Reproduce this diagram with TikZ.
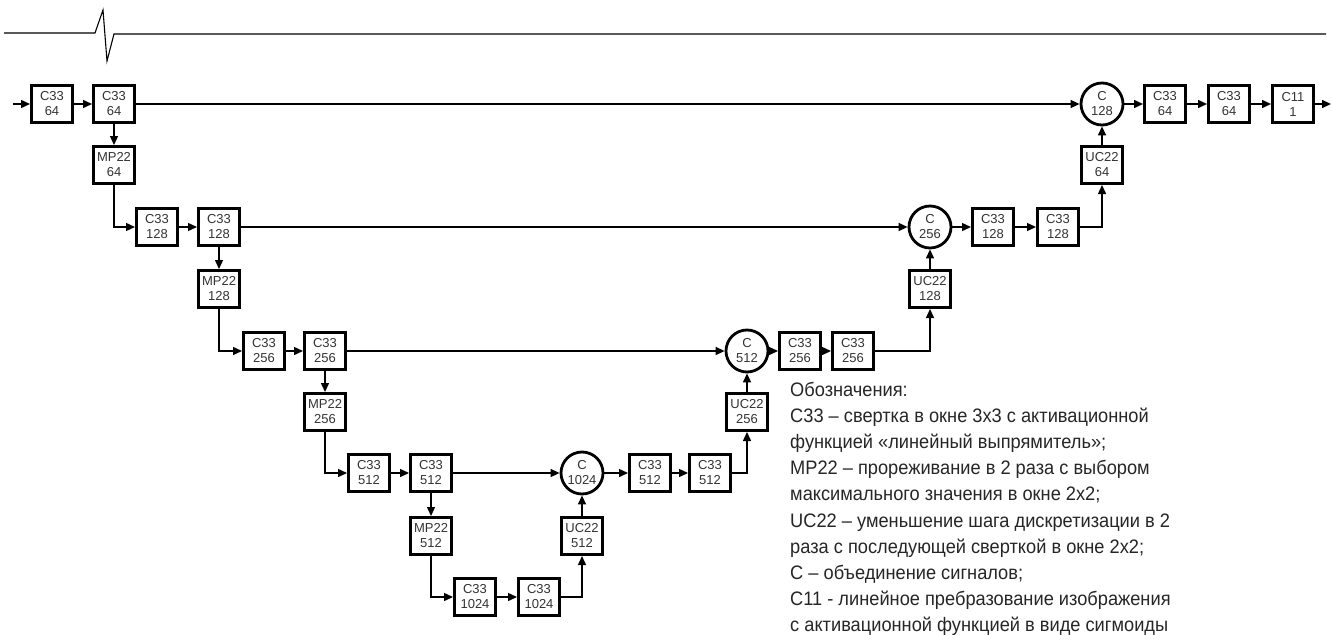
\documentclass[tikz,border=0pt]{standalone}
\usepackage{fontspec}
\setmainfont{Liberation Sans}
\newfontfamily\legendfont[FakeStretch=0.935]{Liberation Sans}
\usetikzlibrary{arrows.meta}

\begin{document}
\begin{tikzpicture}[x=1pt,y=-1pt,
        blk/.style={draw, line width=3pt, minimum width=41pt, minimum height=37pt, inner sep=0pt, align=center, text=black!80, font=\fontsize{13}{15}\selectfont},
        cat/.style={draw, circle, line width=2.8pt, minimum size=42pt, inner sep=0pt, align=center, text=black!80, font=\fontsize{13}{15}\selectfont},
        link/.style={line width=1.4pt, -{Triangle[length=9pt,width=8pt]}}]
        \useasboundingbox (0,0) rectangle (1332,634);
        % header rule
        \draw[line width=1.1pt] (4,33) -- (95,33) -- (103,10) -- (107,61) -- (114,34) -- (1326,34);
        % encoder
        \node[blk] (c64a) at (52,104) {C33\\64};
        \node[blk] (c64b) at (114,104) {C33\\64};
        \node[blk] (mp64) at (114,165) {MP22\\64};
        \node[blk] (c128a) at (157,227) {C33\\128};
        \node[blk] (c128b) at (219,227) {C33\\128};
        \node[blk] (mp128) at (219,289) {MP22\\128};
        \node[blk] (c256a) at (264,351) {C33\\256};
        \node[blk] (c256b) at (325,351) {C33\\256};
        \node[blk] (mp256) at (325,412) {MP22\\256};
        \node[blk] (c512a) at (369,473) {C33\\512};
        \node[blk] (c512b) at (431,473) {C33\\512};
        \node[blk] (mp512) at (431,536) {MP22\\512};
        \node[blk] (c1024a) at (475,597) {C33\\1024};
        \node[blk] (c1024b) at (539,597) {C33\\1024};
        % decoder
        \node[blk] (uc512) at (582,536) {UC22\\512};
        \node[cat] (cat1024) at (582,473) {C\\1024};
        \node[blk] (d512a) at (650,473) {C33\\512};
        \node[blk] (d512b) at (710,473) {C33\\512};
        \node[blk] (uc256) at (747,412) {UC22\\256};
        \node[cat] (cat512) at (747,351) {C\\512};
        \node[blk] (d256a) at (800,351) {C33\\256};
        \node[blk] (d256b) at (853,351) {C33\\256};
        \node[blk] (uc128) at (930,289) {UC22\\128};
        \node[cat] (cat256) at (930,227) {C\\256};
        \node[blk] (d128a) at (993,227) {C33\\128};
        \node[blk] (d128b) at (1058,227) {C33\\128};
        \node[blk] (uc64) at (1102,165) {UC22\\64};
        \node[cat] (cat128) at (1102,104) {C\\128};
        \node[blk] (d64a) at (1165,104) {C33\\64};
        \node[blk] (d64b) at (1229,104) {C33\\64};
        \node[blk] (out1) at (1293,104) {C11\\1};
        \coordinate (src) at (13,104);
        \coordinate (dst) at (1331,104);
        % connectors
        \draw[link] (src) -- (c64a);
        \draw[link] (c64a) -- (c64b);
        \draw[link] (c64b) -- (mp64);
        \draw[link] (mp64.south) |- (c128a.west);
        \draw[link] (c128a) -- (c128b);
        \draw[link] (c128b) -- (mp128);
        \draw[link] (mp128.south) |- (c256a.west);
        \draw[link] (c256a) -- (c256b);
        \draw[link] (c256b) -- (mp256);
        \draw[link] (mp256.south) |- (c512a.west);
        \draw[link] (c512a) -- (c512b);
        \draw[link] (c512b) -- (mp512);
        \draw[link] (mp512.south) |- (c1024a.west);
        \draw[link] (c1024a) -- (c1024b);
        \draw[link] (c1024b.east) -| (uc512.south);
        \draw[link] (uc512) -- (cat1024);
        \draw[link] (cat1024) -- (d512a);
        \draw[link] (d512a) -- (d512b);
        \draw[link] (d512b.east) -| (uc256.south);
        \draw[link] (uc256) -- (cat512);
        \draw[link] (cat512) -- (d256a);
        \draw[link] (d256a) -- (d256b);
        \draw[link] (d256b.east) -| (uc128.south);
        \draw[link] (uc128) -- (cat256);
        \draw[link] (cat256) -- (d128a);
        \draw[link] (d128a) -- (d128b);
        \draw[link] (d128b.east) -| (uc64.south);
        \draw[link] (uc64) -- (cat128);
        \draw[link] (cat128) -- (d64a);
        \draw[link] (d64a) -- (d64b);
        \draw[link] (d64b) -- (out1);
        \draw[link] (out1) -- (dst);
        % skip connections
        \draw[link] (c64b) -- (cat128);
        \draw[link] (c128b) -- (cat256);
        \draw[link] (c256b) -- (cat512);
        \draw[link] (c512b) -- (cat1024);
        % legend
        \node[anchor=north west, align=left, inner sep=0pt, text=black!85, font=\legendfont\fontsize{19.5}{26.1}\selectfont] (legend) at (790,382) {Обозначения:\\
        С33 – свертка в окне 3х3 с активационной\\
        функцией «линейный выпрямитель»;\\
        MP22 – прореживание в 2 раза с выбором\\
        максимального значения в окне 2х2;\\
        UC22 – уменьшение шага дискретизации в 2\\
        раза с последующей сверткой в окне 2х2;\\
        С – объединение сигналов;\\
        С11 - линейное пребразование изображения\\
        с активационной функцией в виде сигмоиды};
\end{tikzpicture}
\end{document}
